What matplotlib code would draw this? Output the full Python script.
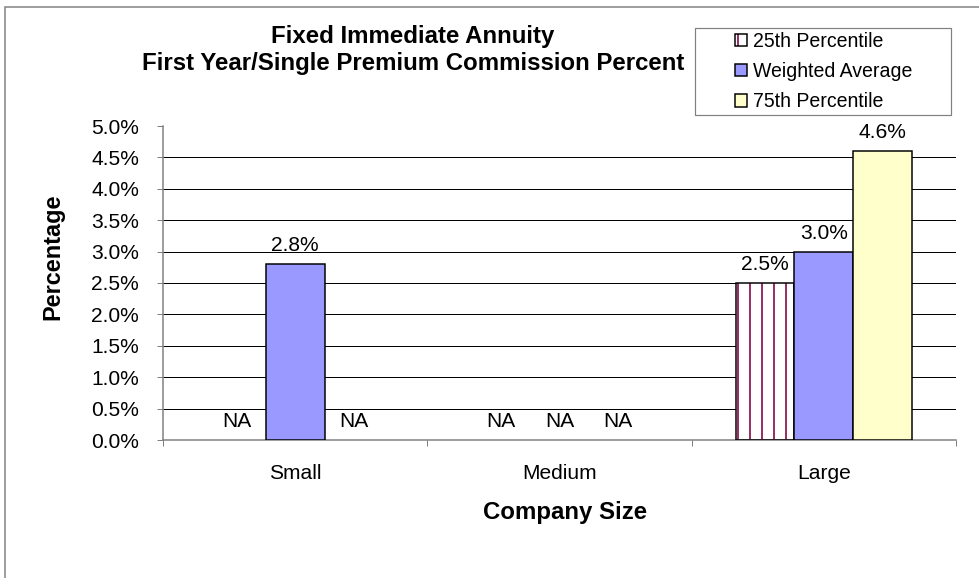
import numpy as np
import matplotlib
matplotlib.use('Agg')
import matplotlib.pyplot as plt
from matplotlib.patches import Rectangle, Patch
from matplotlib.legend_handler import HandlerTuple
from matplotlib.ticker import FuncFormatter

plt.rcParams['font.family'] = ['Liberation Sans', 'DejaVu Sans']
plt.rcParams['hatch.linewidth'] = 2.0

# chart data (percent); nan = not available
company_sizes = ['Small', 'Medium', 'Large']
series_names = ['25th Percentile', 'Weighted Average', '75th Percentile']
pct_25th = [np.nan, np.nan, 2.5]
weighted_avg = [2.8, np.nan, 3.0]
pct_75th = [np.nan, np.nan, 4.6]
y_ticks = [0.0, 0.5, 1.0, 1.5, 2.0, 2.5, 3.0, 3.5, 4.0, 4.5, 5.0]

W, H, DPI = 979, 578, 72
maroon = '#993366'
blue = '#9999FF'
yellow = '#FFFFCC'
grey = '#808080'


def px(x, y):
    '''pixel position (from top-left) to figure fraction'''
    return x / W, 1 - y / H


fig = plt.figure(figsize=(W / DPI, H / DPI), dpi=DPI)
left, top = px(163, 126)
right, bottom = px(956, 440)
ax = fig.add_axes([left, bottom, right - left, top - bottom])

x = np.arange(len(company_sizes))
width = 0.222

# hatched series: white with maroon stripes, black outline drawn on top
ax.bar(x - width, pct_25th, width, color='white', edgecolor=maroon,
       hatch='|', linewidth=0, zorder=2)
ax.bar(x - width, pct_25th, width, fill=False, edgecolor='black',
       linewidth=1.5, zorder=3)
ax.bar(x, weighted_avg, width, color=blue, edgecolor='black',
       linewidth=1.5, zorder=3)
ax.bar(x + width, pct_75th, width, color=yellow, edgecolor='black',
       linewidth=1.5, zorder=3)

# value labels, NA where there is no value
for offset, values in zip((-width, 0, width), (pct_25th, weighted_avg, pct_75th)):
    for xi, v in zip(x, values):
        text = 'NA' if np.isnan(v) else '{:.1f}%'.format(v)
        ax.annotate(text, (xi + offset, np.nan_to_num(v)),
                    xytext=(0, 9), textcoords='offset points',
                    ha='center', va='bottom', fontsize=21)

ax.set_xlim(-0.5, len(company_sizes) - 0.5)
ax.set_ylim(y_ticks[0], y_ticks[-1])
ax.set_yticks(y_ticks)
ax.yaxis.set_major_formatter(FuncFormatter(lambda v, _: '{:.1f}%'.format(v)))
ax.set_xticks(x)
ax.set_xticklabels(company_sizes)
ax.set_xticks(np.arange(-0.5, len(company_sizes)), minor=True)

ax.tick_params(axis='y', length=6, width=1, color=grey, pad=18, labelsize=21)
ax.tick_params(axis='x', which='major', length=0, pad=24, labelsize=21)
ax.tick_params(axis='x', which='minor', length=6, width=1, color=grey)

ax.set_axisbelow(True)
ax.yaxis.grid(True, color='black', linewidth=1)
ax.get_ygridlines()[-1].set_visible(False)
ax.get_ygridlines()[0].set_visible(False)

for side in ('top', 'right'):
    ax.spines[side].set_visible(False)
for side in ('left', 'bottom'):
    ax.spines[side].set_color(grey)
    ax.spines[side].set_linewidth(1.5)

# titles
tx, ty = px(413, 50)
fig.text(tx, ty, 'Fixed Immediate Annuity\nFirst Year/Single Premium Commission Percent',
         ha='center', va='center', fontsize=24, fontweight='bold', linespacing=1.2)
lx, ly = px(53, 257)
fig.text(lx, ly, 'Percentage', rotation=90, ha='center', va='center',
         fontsize=23.5, fontweight='bold')
cx, cy = px(565, 513)
fig.text(cx, cy, 'Company Size', ha='center', va='center',
         fontsize=24, fontweight='bold')

# legend
handles = [
    (Patch(facecolor='white', edgecolor=maroon, hatch='|', linewidth=0),
     Patch(fill=False, edgecolor='black', linewidth=1.5)),
    Patch(facecolor=blue, edgecolor='black', linewidth=1.5),
    Patch(facecolor=yellow, edgecolor='black', linewidth=1.5),
]
fig.legend(handles, series_names, handler_map={tuple: HandlerTuple(ndivide=1)},
           loc='upper left', bbox_to_anchor=px(735, 32), frameon=False,
           fontsize=19.5, borderpad=0, borderaxespad=0,
           handlelength=0.6, handleheight=0.6, handletextpad=0.3,
           labelspacing=0.57)
bx0, by1 = px(695, 28)
bx1, by0 = px(951, 115)
fig.patches.append(Rectangle((bx0, by0), bx1 - bx0, by1 - by0, fill=False,
                             edgecolor=grey, linewidth=1.2,
                             transform=fig.transFigure))

# chart area border (only left and top fall inside the picture)
ox, oy = px(5, 7)
fig.patches.append(Rectangle((ox, -0.1), 1.1, oy + 0.1, fill=False,
                             edgecolor=grey, linewidth=1.5,
                             transform=fig.transFigure, clip_on=False))

fig.savefig('out.png', dpi=DPI)
